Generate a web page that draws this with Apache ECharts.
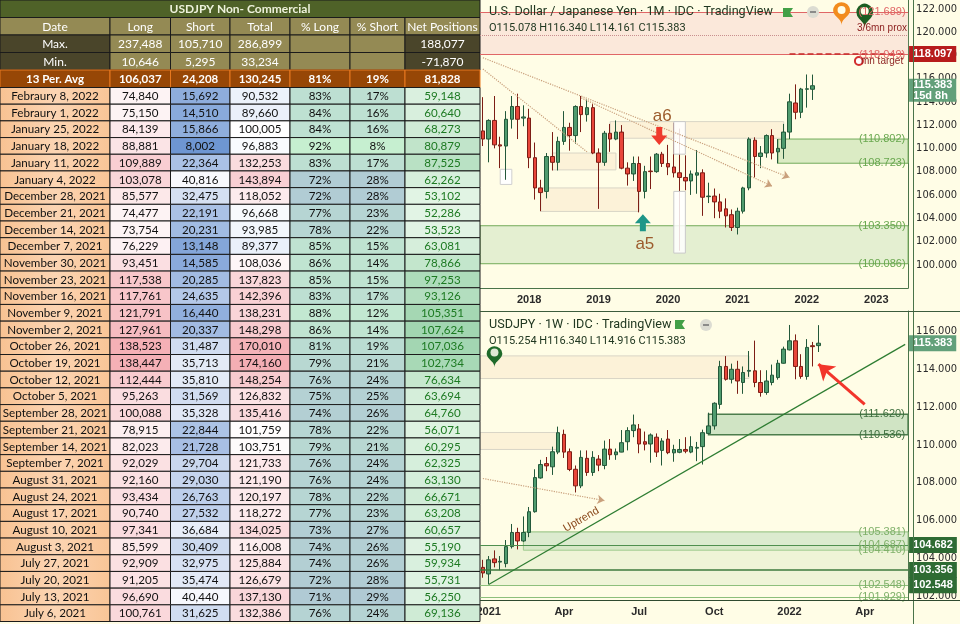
<!DOCTYPE html>
<html><head><meta charset="utf-8">
<script src="https://cdn.jsdelivr.net/npm/echarts@6.0.0/dist/echarts.min.js"></script>
<style>html,body{margin:0;padding:0;background:#fffde6;}#chart{width:960px;height:624px;}</style>
</head><body><div id="chart"></div>
<script>
// ================= DATA =================
const tableTitle = 'USDJPY Non- Commercial';
const headerLabels = ['Date', 'Long', 'Short', 'Total', '% Long', '% Short', 'Net Positions'];
const statMax = ['Max.', 237488, 105710, 286899, null, null, 188077];
const statMin = ['Min.', 10646, 5295, 33234, null, null, -71870];
const statAvg = ['13 Per. Avg', 106037, 24208, 130245, 81, 19, 81828];

const reportDates = ['Febraury 8, 2022','Febraury 1, 2022','January 25, 2022','January 18, 2022','January 11, 2022','January 4, 2022',
 'December 28, 2021','December 21, 2021','December 14, 2021','December 7, 2021','November 30, 2021','November 23, 2021',
 'November 16, 2021','November 9, 2021','November 2, 2021','October 26, 2021','October 19, 2021','October 12, 2021',
 'October 5, 2021','September 28, 2021','September 21, 2021','September 14, 2021','September 7, 2021','August 31, 2021',
 'August 24, 2021','August 17, 2021','August 10, 2021','August 3, 2021','July 27, 2021','July 20, 2021','July 13, 2021','July 6, 2021'];
const longPos = [74840,75150,84139,88881,109889,103078,85577,74477,73754,76229,93451,117538,117761,121791,127961,138523,138447,112444,95263,100088,78915,82023,92029,92160,93434,90740,97341,85599,92909,91205,96690,100761];
const shortPos = [15692,14510,15866,8002,22364,40816,32475,22191,20231,13148,14585,20285,24635,16440,20337,31487,35713,35810,31569,35328,22844,21728,29704,29030,26763,27532,36684,30409,32975,35474,40440,31625];
const totalPos = [90532,89660,100005,96883,132253,143894,118052,96668,93985,89377,108036,137823,142396,138231,148298,170010,174160,148254,126832,135416,101759,103751,121733,121190,120197,118272,134025,116008,125884,126679,137130,132386];
const pctLong = [83,84,84,92,83,72,72,77,78,85,86,85,83,88,86,81,79,76,75,74,78,79,76,76,78,77,73,74,74,72,71,76];
const pctShort = [17,16,16,8,17,28,28,23,22,15,14,15,17,12,14,19,21,24,25,26,22,21,24,24,22,23,27,26,26,28,29,24];
const netPos = [59148,60640,68273,80879,87525,62262,53102,52286,53523,63081,78866,97253,93126,105351,107624,107036,102734,76634,63694,64760,56071,60295,62325,63130,66671,63208,60657,55190,59934,55731,56250,69136];

// Monthly USDJPY candles, May 2017 .. Feb 2022  [open, close, low, high]
const monthOHLC = [
 [111.5,110.8,110.2,114.4],[110.8,112.4,108.8,112.5],[112.4,110.3,110.0,114.5],[110.3,110.2,108.3,111.0],
 [110.2,112.5,107.3,113.2],[112.5,113.6,111.7,114.5],[113.6,112.5,110.8,114.7],[112.6,112.7,111.9,113.7],
 [112.6,109.2,108.3,113.4],[109.2,106.6,105.6,110.5],[106.6,106.2,104.6,107.3],[106.3,109.3,105.7,109.6],
 [109.3,108.8,108.1,111.4],[108.8,110.6,108.1,111.0],[110.6,111.8,110.3,113.2],[111.8,111.1,109.8,112.2],
 [111.1,113.6,110.4,113.7],[113.6,112.9,111.4,114.5],[112.9,113.5,112.3,114.2],[113.5,109.6,109.5,113.8],
 [109.6,108.8,104.8,110.0],[108.8,111.3,108.5,111.5],[111.3,110.8,109.7,112.1],[110.8,111.4,110.7,112.4],
 [111.4,108.3,108.2,112.0],[108.3,107.8,106.8,108.8],[107.8,108.7,107.2,109.3],[108.7,106.3,104.5,109.3],
 [106.3,108.0,105.7,108.5],[108.05,108.0,106.5,109.3],[108.0,109.5,107.9,109.6],[109.5,108.7,108.4,109.7],
 [108.7,108.4,107.7,110.3],[108.4,107.9,107.5,112.2],[107.9,107.5,101.2,111.7],[107.5,107.2,106.4,109.4],
 [107.2,107.8,106.0,108.1],[107.7,107.9,106.1,109.85],[107.9,105.8,104.2,108.2],[105.85,105.9,105.3,107.05],
 [105.9,105.4,104.0,106.55],[105.4,104.6,104.0,106.1],[104.8,104.2,103.2,105.7],[104.3,103.2,102.9,104.75],
 [103.2,104.6,102.6,104.9],[104.6,106.6,104.4,106.7],[106.6,110.8,106.4,110.95],[110.7,109.3,107.5,110.95],
 [109.3,109.6,108.3,110.2],[109.6,111.1,109.2,111.2],[111.1,109.6,109.05,111.65],[109.7,110.0,108.7,110.8],
 [110.0,111.4,109.1,112.1],[111.4,114.0,110.8,114.7],[113.9,113.1,112.5,115.5],[113.1,115.1,112.6,115.2],
 [115.08,115.12,113.5,116.35],[115.078,115.383,114.161,116.34]
];
// Weekly USDJPY candles, week of Dec 28 2020 .. week of Feb 7 2022  [open, close, low, high]
const weekOHLC = [
 [103.5,103.2,102.95,103.9],[103.15,103.9,102.6,104.1],[103.95,103.75,103.5,104.4],[103.78,103.82,103.35,104.1],
 [103.7,104.6,103.5,104.95],[104.6,105.35,104.5,105.8],[105.35,104.9,104.45,105.6],[104.9,105.35,104.85,106.2],
 [105.35,106.45,105.1,106.7],[106.45,108.26,106.4,108.7],[108.24,108.95,108.2,109.2],[109.0,108.88,108.6,109.35],
 [108.83,109.63,108.4,109.9],[109.61,110.64,109.5,110.96],[110.55,109.61,109.3,110.8],[109.63,108.69,108.6,109.8],
 [108.7,107.82,107.47,108.9],[107.82,109.33,107.7,109.7],[109.28,108.53,108.35,109.7],[108.53,109.33,108.35,109.66],
 [109.24,108.92,108.6,109.45],[108.9,109.77,108.7,110.22],[109.77,109.47,109.2,110.3],[109.47,109.62,109.2,109.8],
 [109.61,110.11,109.6,110.78],[110.16,110.75,109.7,110.93],[110.75,111.05,110.4,111.6],[110.84,110.04,109.55,111.1],
 [110.16,110.03,109.7,110.7],[110.04,110.52,109.05,110.6],[110.4,109.61,109.35,110.6],[109.7,110.2,108.9,110.35],
 [110.3,109.58,109.5,110.78],[109.57,109.75,109.1,110.0],[109.6,109.75,109.55,110.3],[109.75,109.66,109.55,110.4],
 [109.61,109.9,109.55,110.45],[109.82,109.86,109.13,110.15],[109.9,110.64,108.95,110.8],[110.6,111.0,110.55,111.7],
 [111.0,112.2,110.8,112.25],[112.14,114.15,111.9,114.45],[114.15,113.47,113.4,114.7],[113.47,114.0,113.25,114.3],
 [114.0,113.38,112.7,114.45],[113.3,113.83,112.7,114.15],[113.9,113.94,113.6,114.97],[113.92,113.3,113.05,115.52],
 [113.3,112.77,112.55,113.95],[112.77,113.38,112.65,113.95],[113.3,113.69,113.15,114.25],[113.56,114.32,113.45,114.5],
 [114.32,115.07,114.3,115.2],[115.03,115.51,115.0,116.35],[115.51,114.15,113.47,115.85],[114.15,113.62,113.5,114.8],
 [113.62,115.16,113.45,115.6],[115.25,115.2,114.15,115.45],[115.254,115.383,114.916,116.34]
];
const topYTicks = [100,102,104,106,108,110,112,114,116,118,120,122];
const botYTicks = [102,104,106,108,110,112,114,116];

// Categories
const MON = ['Jan','Feb','Mar','Apr','May','Jun','Jul','Aug','Sep','Oct','Nov','Dec'];
const monthCats = Array.from({length: 74}, (_, i) => MON[(4 + i) % 12] + ' ' + (2017 + Math.floor((4 + i) / 12)));
const weekCats = Array.from({length: 74}, (_, i) => new Date(Date.UTC(2020, 11, 28) + i * 7 * 864e5).toISOString().slice(0, 10));

// ================= TABLE CELLS =================
const COL_EDGES = [0, 110, 170.5, 230, 290, 350, 405, 480];
const FONT = 'Lato, "Liberation Sans", sans-serif';
const fmt = v => v.toLocaleString('en-US');
function mix(a, b, t) { t = Math.max(0, Math.min(1, t)); return 'rgb(' + a.map((v, i) => Math.round(v + (b[i] - v) * t)).join(',') + ')'; }
function scale(vals, lo, hi) { const mn = Math.min(...vals), mx = Math.max(...vals); return v => mix(lo, hi, (v - mn) / (mx - mn)); }
const cLong = scale(longPos, [253,244,245], [245,176,182]);
const cShort = scale(shortPos, [110,150,210], [248,249,253]);
const cPL = scale(pctLong, [176,202,212], [198,239,208]);
const cPS = scale(pctShort, [198,239,208], [176,202,212]);
const cNet = scale(netPos, [226,244,229], [162,214,177]);
const tMin = Math.min(...totalPos), tMax = Math.max(...totalPos), tMid = 100000;
const cTotal = v => v < tMid ? mix([234,240,250], [255,255,255], (v - tMin) / (tMid - tMin)) : mix([255,255,255], [244,174,180], (v - tMid) / (tMax - tMid));
const dateFill = new echarts.graphic.LinearGradient(0, 0, 1, 0, [{offset:0,color:'#f8c292'},{offset:0.5,color:'#fcd5b3'},{offset:1,color:'#f9c596'}]);

const HEAD_SIZE = 12, BODY_SIZE = 11.6;
const headCells = [];
headCells.push({span: true, row: 0, text: tableTitle, fill: '#4f6228', color: '#eef2dc', size: 12, weight: 'bold'});
headerLabels.forEach((h, j) => headCells.push({col: j, row: 1, text: h, fill: '#948a54', color: '#ffffff', size: HEAD_SIZE}));
[statMax, statMin].forEach((r, ri) => r.forEach((v, j) => headCells.push({
  col: j, row: 2 + ri, text: v == null ? '' : (j === 0 ? v : fmt(v)),
  fill: (j === 0 || j === 6) ? '#4a452a' : '#948a54', color: '#ffffff', size: HEAD_SIZE})));
statAvg.forEach((v, j) => headCells.push({col: j, row: 4, text: j === 0 ? v : (j === 4 || j === 5 ? v + '%' : fmt(v)),
  fill: '#974706', color: '#ffffff', stroke: '#e8781e', size: 11.5, weight: 'bold'}));

const bodyCells = [];
reportDates.forEach((d, i) => {
  bodyCells.push({col: 0, row: i, text: d, fill: dateFill, color: '#111', size: BODY_SIZE});
  bodyCells.push({col: 1, row: i, text: fmt(longPos[i]), fill: cLong(longPos[i]), color: '#111', size: BODY_SIZE});
  bodyCells.push({col: 2, row: i, text: fmt(shortPos[i]), fill: cShort(shortPos[i]), color: '#111', size: BODY_SIZE});
  bodyCells.push({col: 3, row: i, text: fmt(totalPos[i]), fill: cTotal(totalPos[i]), color: '#111', size: BODY_SIZE});
  bodyCells.push({col: 4, row: i, text: pctLong[i] + '%', fill: cPL(pctLong[i]), color: '#111', size: BODY_SIZE});
  bodyCells.push({col: 5, row: i, text: pctShort[i] + '%', fill: cPS(pctShort[i]), color: '#111', size: BODY_SIZE});
  bodyCells.push({col: 6, row: i, text: fmt(netPos[i]), fill: cNet(netPos[i]), color: '#1d7a22', size: BODY_SIZE});
});

function cellSeries(cells, axisIdx) {
  return {
    type: 'custom', xAxisIndex: axisIdx, yAxisIndex: axisIdx, silent: true, z: 2,
    data: cells.map(c => [c.span ? 0 : COL_EDGES[c.col], c.row]),
    encode: {x: 0, y: 1},
    renderItem: function (params, api) {
      const c = cells[params.dataIndex];
      const x0 = c.span ? COL_EDGES[0] : COL_EDGES[c.col];
      const x1 = c.span ? COL_EDGES[COL_EDGES.length - 1] : COL_EDGES[c.col + 1];
      const a = api.coord([x0, c.row]), b = api.coord([x1, c.row]);
      const h = api.size([0, 1])[1];
      const r = {x: a[0], y: a[1] - h / 2, width: b[0] - a[0], height: h};
      return {type: 'group', children: [
        {type: 'rect', shape: r, style: {fill: c.fill, stroke: c.stroke || '#1b1b1b', lineWidth: 1}},
        {type: 'text', style: {x: r.x + r.width / 2, y: r.y + r.height / 2 + 0.5, text: c.text, fill: c.color,
          fontSize: c.size, fontFamily: FONT, fontWeight: c.weight || 'normal', align: 'center', verticalAlign: 'middle'}}
      ]};
    }
  };
}

// ================= CHART HELPERS =================
const mc = monthCats, wc = weekCats;
const beige = {color: '#fcf2d8', borderColor: '#d9d5c6', borderWidth: 1};
const tag = (cat, v, text, color, size) => ({coord: [cat, v], symbol: 'circle', symbolSize: 1, itemStyle: {color: 'rgba(0,0,0,0)'},
  label: {show: true, position: 'inside', formatter: text, color: color, fontSize: size || 11}});
const boxLabel = (text, bg, extra) => Object.assign({show: true, position: 'end', distance: 1, formatter: text, backgroundColor: bg,
  color: '#ffffff', fontSize: 11, fontWeight: 'bold', padding: [3, 4, 2, 4]}, extra || {});
const box = (v, text, bg, extra) => ({yAxis: v, lineStyle: {color: 'rgba(0,0,0,0)', width: 0}, label: boxLabel(text, bg, extra)});
const hline = (v, color, width, type) => ({yAxis: v, lineStyle: {color: color, width: width, type: type || 'solid'}, label: {show: false}});
const pinPt = (cat, v, color, size) => ({coord: [cat, v], symbol: 'pin', symbolSize: size, itemStyle: {color: color}, label: {show: false}});
const dot = (cat, v, color, size, border) => ({coord: [cat, v], symbol: 'circle', symbolSize: size,
  itemStyle: {color: color, borderColor: border || color, borderWidth: border ? 2 : 0}, label: {show: false}});
const DOWN_ARROW = 'path://M5,0 L11,0 L11,8 L16,8 L8,17 L0,8 L5,8 Z';
const UP_ARROW = 'path://M8,0 L16,9 L11,9 L11,17 L5,17 L5,9 L0,9 Z';
const dotted = {color: '#c9a07c', width: 1.2, type: 'dotted'};

const lastM = monthOHLC[monthOHLC.length - 1];
const lastW = weekOHLC[weekOHLC.length - 1];
const ohlcText = c => 'O' + c[0].toFixed(3) + ' H' + c[3].toFixed(3) + ' L' + c[2].toFixed(3) + ' C' + c[1].toFixed(3);

const candleStyle = {color: '#4f9b6e', color0: '#e8463a', borderColor: '#23583a', borderColor0: '#7c1d15', borderWidth: 1};
const axisLineColor = '#4a744a';
const priceLabel = {color: '#2b2b2b', fontSize: 11, margin: 8, fontFamily: '"Liberation Sans Narrow", "DejaVu Sans Condensed", "Liberation Sans", sans-serif', formatter: v => v.toFixed(3)};

const option = {
  animation: false,
  backgroundColor: '#fffde6',
  textStyle: {fontFamily: '"Liberation Sans", Arial, sans-serif'},
  grid: [
    {left: 0, top: 0, width: 480, height: 87.5},
    {left: 0, top: 87.5, width: 480, height: 534},
    {left: 480, top: 0, width: 434, height: 288},
    {left: 480, top: 311, width: 434, height: 289}
  ],
  xAxis: [
    {gridIndex: 0, type: 'value', min: 0, max: 480, show: false},
    {gridIndex: 1, type: 'value', min: 0, max: 480, show: false},
    {gridIndex: 2, type: 'category', data: monthCats, boundaryGap: true,
      axisLine: {lineStyle: {color: axisLineColor}}, axisTick: {show: false}, splitLine: {show: false},
      axisLabel: {interval: (i, v) => v.startsWith('Jan'), formatter: v => v.slice(4), color: '#2b2b2b', fontSize: 11, fontWeight: 'bold', margin: 6}},
    {gridIndex: 3, type: 'category', data: weekCats, boundaryGap: true,
      axisLine: {lineStyle: {color: '#2f4a2f'}}, axisTick: {show: false}, splitLine: {show: false},
      axisLabel: {interval: (i, v) => { const d = new Date(v); return d.getUTCDate() <= 7 && d.getUTCMonth() % 3 === 0; },
        formatter: v => { const d = new Date(v); const m = d.getUTCMonth(); return m === 0 ? String(d.getUTCFullYear()) : MON[m]; },
        color: '#2b2b2b', fontSize: 11, fontWeight: 'bold', margin: 6}}
  ],
  yAxis: [
    {gridIndex: 0, type: 'category', data: [0, 1, 2, 3, 4], inverse: true, show: false},
    {gridIndex: 1, type: 'category', data: reportDates, inverse: true, show: false},
    {gridIndex: 2, type: 'value', position: 'right', min: 98, max: 122.75, splitLine: {show: false},
      axisLine: {show: true, lineStyle: {color: axisLineColor}}, axisTick: {show: false},
      axisLabel: Object.assign({customValues: topYTicks}, priceLabel)},
    {gridIndex: 3, type: 'value', position: 'right', min: 101.77, max: 117.09, splitLine: {show: false},
      axisLine: {show: true, lineStyle: {color: axisLineColor}}, axisTick: {show: false},
      axisLabel: Object.assign({customValues: botYTicks}, priceLabel)}
  ],
  series: [
    cellSeries(headCells, 0),
    cellSeries(bodyCells, 1),
    // ---------- Monthly chart ----------
    {
      type: 'candlestick', xAxisIndex: 2, yAxisIndex: 2, data: monthOHLC, barWidth: 4, clip: false, z: 2,
      itemStyle: candleStyle,
      markArea: {silent: true, data: [
        [{yAxis: 121.689, itemStyle: {color: '#fbe8da'}}, {yAxis: 118.049}],
        [{yAxis: 103.35, itemStyle: {color: '#e4efd1', borderColor: '#72ab5a', borderWidth: 1}}, {yAxis: 100.086}],
        [{xAxis: mc[51], yAxis: 110.802, itemStyle: {color: '#dbebc4', borderColor: '#72ab5a', borderWidth: 1}}, {yAxis: 108.723}],
        [{xAxis: mc[22], yAxis: 112.3, itemStyle: beige}, {xAxis: mc[52], yAxis: 110.87}],
        [{xAxis: mc[10], yAxis: 106.6, itemStyle: beige}, {xAxis: mc[27], yAxis: 104.58}],
        [{xAxis: mc[12], yAxis: 109.6, itemStyle: beige}, {xAxis: mc[23], yAxis: 108.15}],
        [{xAxis: mc[3], yAxis: 108.2, itemStyle: {color: '#ffffff', borderColor: '#cfcfcf', borderWidth: 1}}, {xAxis: mc[5], yAxis: 106.9}]
      ]},
      markLine: {silent: true, symbol: ['none', 'none'], data: [
        hline(121.689, '#e06666', 1),
        hline(118.049, '#e06666', 1),
        hline(119.75, '#c98f8f', 1, 'dotted'),
        [{coord: [mc[53], 118.097], lineStyle: {color: '#c62828', width: 1.5, type: 'dashed'}, label: {show: false}}, {coord: [mc[73], 118.097]}],
        [{coord: [mc[0], 117.79], lineStyle: dotted, label: {show: false}}, {coord: [mc[53], 107.5], symbol: 'arrow', symbolSize: 7}],
        [{coord: [mc[0], 116.82], lineStyle: dotted, label: {show: false}}, {coord: [mc[18], 109.7]}],
        [{coord: [mc[17], 114.34], lineStyle: dotted, label: {show: false}}, {coord: [mc[50], 106.75], symbol: 'arrow', symbolSize: 7}],
        box(118.097, '118.097', '#b71c1c'),
        box(115.0, '115.383\n15d 8h', '#62a07a', {lineHeight: 11, padding: [1, 4, 0, 4]})
      ]},
      markPoint: {silent: true, data: [
        {coord: [mc[31], 111.07], symbol: DOWN_ARROW, symbolSize: [16, 18], symbolOffset: [-3, 0], itemStyle: {color: '#ef3a2d'}, label: {show: false}},
        tag(mc[31], 112.73, 'a6', '#9c5b2c', 17),
        {coord: [mc[28], 103.6], symbol: UP_ARROW, symbolSize: [16, 17], symbolOffset: [-2, 0], itemStyle: {color: '#1e9688'}, label: {show: false}},
        tag(mc[28], 101.72, 'a5', '#9c5b2c', 17),
        tag(mc[69], 121.689, '(121.689)', '#e06666'),
        tag(mc[69], 120.34, '3/6mn prox', '#8b1e1e', 10),
        tag(mc[69], 118.049, '(118.049)', '#e06666'),
        tag(mc[69], 117.51, 'mn target', '#8b1e1e', 10),
        dot(mc[65], 117.51, '#ffffff', 8, '#d32f2f'),
        tag(mc[69], 110.802, '(110.802)', '#6aa84f'),
        tag(mc[69], 108.723, '(108.723)', '#6aa84f'),
        tag(mc[69], 103.35, '(103.350)', '#6aa84f'),
        tag(mc[69], 100.086, '(100.086)', '#6aa84f'),
        pinPt(mc[62], 120.6, '#f28c1e', [28, 26]),
        dot(mc[62], 121.89, '#fffde6', 8),
        pinPt(mc[66], 120.34, '#1d5e22', [28, 28]),
        dot(mc[66], 121.8, '#fffde6', 8)
      ]}
    },
    {
      type: 'line', xAxisIndex: 2, yAxisIndex: 2, data: [], silent: true,
      markArea: {silent: true, z: 3, data: [
        [{xAxis: mc[33], yAxis: 112.3, itemStyle: {color: 'rgba(255,255,255,0.85)', borderColor: '#c9c9c9', borderWidth: 1}}, {xAxis: mc[35], yAxis: 109.5}],
        [{xAxis: mc[33], yAxis: 106.3, itemStyle: {color: 'rgba(255,255,255,0.85)', borderColor: '#c9c9c9', borderWidth: 1}}, {xAxis: mc[35], yAxis: 101.0}]
      ]}
    },
    // ---------- Weekly chart ----------
    {
      type: 'candlestick', xAxisIndex: 3, yAxisIndex: 3, data: weekOHLC, barWidth: 4, clip: false, z: 2,
      itemStyle: candleStyle,
      markArea: {silent: true, data: [
        [{yAxis: 114.71, itemStyle: beige}, {xAxis: wc[46], yAxis: 113.51}],
        [{yAxis: 110.65, itemStyle: beige}, {xAxis: wc[13], yAxis: 109.75}],
        [{xAxis: wc[39], yAxis: 111.62, itemStyle: {color: '#d0e4c4', borderColor: '#4c7d4c', borderWidth: 1.5}}, {yAxis: 110.536}],
        [{xAxis: wc[7], yAxis: 105.381, itemStyle: {color: '#dcebcf', borderColor: '#8dbf7b', borderWidth: 1}}, {yAxis: 104.41}],
        [{yAxis: 104.687, itemStyle: {color: 'rgba(205,228,185,0.32)'}}, {yAxis: 102.548}]
      ]},
      markLine: {silent: true, symbol: ['none', 'none'], data: [
        hline(104.687, '#4f8f4f', 1.2),
        hline(103.356, '#3d7a3d', 1.5),
        hline(102.548, '#8dbf7b', 1),
        hline(101.929, '#8dbf7b', 1),
        [{coord: [wc[1], 102.59], lineStyle: {color: '#2e7d32', width: 1.2, type: 'solid'}, label: {show: false}}, {coord: [wc[73], 115.32]}],
        [{coord: [wc[0], 108.21], lineStyle: dotted, label: {show: false}}, {coord: [wc[21], 107.04], symbol: 'arrow', symbolSize: 7}],
        [{coord: [wc[66], 112.14], lineStyle: {color: '#f2352b', width: 3, type: 'solid'}, label: {show: false}}, {coord: [wc[58], 114.27], symbol: 'arrow', symbolSize: 15}],
        box(lastW[1], lastW[1].toFixed(3), '#62a07a'),
        box(104.682, '104.682', '#2e6b33'),
        box(103.356, '103.356', '#2e6b33'),
        box(102.548, '102.548', '#2e6b33')
      ]},
      markPoint: {silent: true, data: [
        tag(wc[69], 111.62, '(111.620)', '#3f6f3f'),
        tag(wc[69], 110.536, '(110.536)', '#3f6f3f'),
        tag(wc[69], 105.381, '(105.381)', '#7fb069'),
        tag(wc[69], 104.687, '(104.687)', '#7fb069'),
        tag(wc[69], 104.41, '(104.410)', '#7fb069'),
        tag(wc[69], 102.548, '(102.548)', '#7fb069'),
        tag(wc[69], 101.929, '(101.929)', '#7fb069'),
        {coord: [wc[17], 106.03], symbol: 'circle', symbolSize: 1, itemStyle: {color: 'rgba(0,0,0,0)'},
          label: {show: true, position: 'inside', formatter: 'Uptrend', color: '#8b4a1c', fontSize: 11, rotate: 30}},
        pinPt(wc[2], 114.11, '#1f6a2a', [26, 24]),
        dot(wc[2], 114.89, '#dfe8d5', 8)
      ]}
    }
  ],
  graphic: [
    {type: 'line', z: 50, shape: {x1: 913.5, y1: 0, x2: 913.5, y2: 624}, style: {stroke: axisLineColor, lineWidth: 1}},
    {type: 'line', z: 50, shape: {x1: 480, y1: 311.5, x2: 960, y2: 311.5}, style: {stroke: '#3c5c3c', lineWidth: 1}},
    {type: 'line', z: 50, shape: {x1: 480, y1: 600.5, x2: 960, y2: 600.5}, style: {stroke: '#2f4a2f', lineWidth: 1}},
    {type: 'text', z: 60, x: 489, y: 12, style: {text: 'U.S. Dollar / Japanese Yen · 1M · IDC · TradingView', fill: '#213821', fontSize: 12.6, fontFamily: 'Roboto, sans-serif', verticalAlign: 'middle'}},
    {type: 'text', z: 60, x: 489, y: 28, style: {text: ohlcText(lastM), fill: '#213821', fontSize: 11, fontFamily: 'Roboto, sans-serif', verticalAlign: 'middle'}},
    {type: 'polygon', z: 60, shape: {points: [[783, 8], [793, 8], [790, 12.5], [793, 17], [783, 17]]}, style: {fill: '#43a047'}},
    {type: 'circle', z: 60, shape: {cx: 813, cy: 12, r: 6}, style: {fill: '#dcdcd2'}},
    {type: 'rect', z: 61, shape: {x: 810, y: 11.2, width: 6, height: 1.6}, style: {fill: '#777'}},
    {type: 'text', z: 60, x: 489, y: 325, style: {text: 'USDJPY · 1W · IDC · TradingView', fill: '#213821', fontSize: 12.6, fontFamily: 'Roboto, sans-serif', verticalAlign: 'middle'}},
    {type: 'text', z: 60, x: 489, y: 341, style: {text: ohlcText(lastW), fill: '#213821', fontSize: 11, fontFamily: 'Roboto, sans-serif', verticalAlign: 'middle'}},
    {type: 'polygon', z: 60, shape: {points: [[675, 320], [685, 320], [682, 324.5], [685, 329], [675, 329]]}, style: {fill: '#43a047'}},
    {type: 'circle', z: 60, shape: {cx: 706, cy: 325, r: 6}, style: {fill: '#dcdcd2'}},
    {type: 'rect', z: 61, shape: {x: 703, y: 324.2, width: 6, height: 1.6}, style: {fill: '#777'}}
  ]
};

const chart = echarts.init(document.getElementById('chart'), null, {renderer: 'canvas'});
chart.setOption(option);
</script></body></html>
